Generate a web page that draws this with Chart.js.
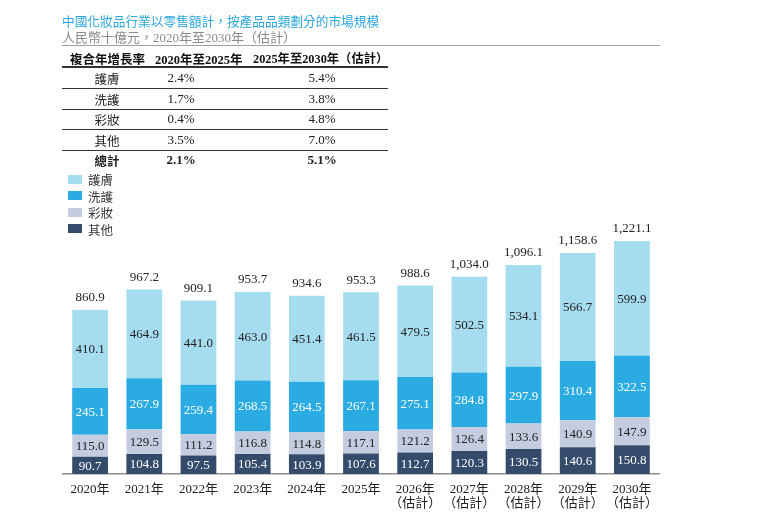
<!DOCTYPE html>
<html>
<head>
<meta charset="utf-8">
<script src="https://cdn.jsdelivr.net/npm/chart.js@4"></script>
<style>
  body { margin: 0; background: #fff; }
  #wrap { position: relative; width: 760px; height: 515px; overflow: hidden; }
  #chart { position: absolute; left: 0; top: 0; }
  .abs { position: absolute; white-space: nowrap; transform: translate(-50%, -50%); }
  .left { transform: translate(0, -50%); }
  .serif { font-family: "Liberation Serif", "Noto Sans CJK TC", serif; }
  .cjk { font-family: "Noto Sans CJK TC", sans-serif; }
  .hline { position: absolute; height: 1px; background: #333; }
  .sw { position: absolute; width: 14px; height: 9px; }
</style>
</head>
<body>
<div id="wrap">
  <canvas id="chart" width="760" height="515"></canvas>
  <div id="overlay"></div>
</div>
<script>
// chart values
const years = ['2020年', '2021年', '2022年', '2023年', '2024年', '2025年',
  ['2026年', '（估計）'], ['2027年', '（估計）'], ['2028年', '（估計）'],
  ['2029年', '（估計）'], ['2030年', '（估計）']];
const skincare = [410.1, 464.9, 441.0, 463.0, 451.4, 461.5, 479.5, 502.5, 534.1, 566.7, 599.9];
const haircare = [245.1, 267.9, 259.4, 268.5, 264.5, 267.1, 275.1, 284.8, 297.9, 310.4, 322.5];
const makeup = [115.0, 129.5, 111.2, 116.8, 114.8, 117.1, 121.2, 126.4, 133.6, 140.9, 147.9];
const others = [90.7, 104.8, 97.5, 105.4, 103.9, 107.6, 112.7, 120.3, 130.5, 140.6, 150.8];
const totals = [860.9, 967.2, 909.1, 953.7, 934.6, 953.3, 988.6, 1034.0, 1096.1, 1158.6, 1221.1];

// CAGR table
const cagrHead = ['複合年增長率', '2020年至2025年', '2025年至2030年（估計）'];
const cagrCats = ['護膚', '洗護', '彩妝', '其他', '總計'];
const cagr2025 = ['2.4%', '1.7%', '0.4%', '3.5%', '2.1%'];
const cagr2030 = ['5.4%', '3.8%', '4.8%', '7.0%', '5.1%'];

const title = '中國化妝品行業以零售額計，按產品品類劃分的市場規模';
const subtitle = '人民幣十億元，2020年至2030年（估計）';

const colors = { skin: '#a6dcf0', hair: '#2aace2', makeup: '#c4cde0', others: '#344b6c' };

function buildOverlay() {
  const ov = document.getElementById('overlay');
  let html = '';
  html += `<div class="abs left cjk" style="left:62px;top:20px;font-size:12.7px;color:#2ba6dc">${title}</div>`;
  html += `<div class="abs left serif" style="left:62px;top:36px;font-size:13px;color:#8a8a8a">${subtitle}</div>`;
  html += `<div class="hline" style="left:62px;top:45px;width:598px;background:#a0a0a0"></div>`;
  // table header, left edges as in the picture
  const headX = [70, 155, 253];
  const headSize = [12.5, 12.5, 12.3];
  cagrHead.forEach((h, i) => {
    html += `<div class="abs left serif" style="left:${headX[i]}px;top:58px;font-size:${headSize[i]}px;font-weight:bold;color:#111">${h}</div>`;
  });
  html += `<div class="hline" style="left:62px;top:66px;width:326px;height:2px;background:#333"></div>`;
  const rowY = [78, 99, 119, 140, 160];
  const lineY = [88, 109, 129, 150];
  cagrCats.forEach((c, i) => {
    const bold = i === cagrCats.length - 1 ? 'font-weight:bold;' : '';
    html += `<div class="abs cjk" style="left:107px;top:${rowY[i]}px;font-size:12.5px;color:#222;${bold}">${c}</div>`;
    html += `<div class="abs serif" style="left:181px;top:${rowY[i]}px;font-size:13px;color:#222;${bold}">${cagr2025[i]}</div>`;
    html += `<div class="abs serif" style="left:322px;top:${rowY[i]}px;font-size:13px;color:#222;${bold}">${cagr2030[i]}</div>`;
  });
  lineY.forEach(y => {
    html += `<div class="hline" style="left:62px;top:${y}px;width:326px"></div>`;
  });
  // legend
  const legend = [['護膚', colors.skin], ['洗護', colors.hair], ['彩妝', colors.makeup], ['其他', colors.others]];
  legend.forEach((l, i) => {
    const y = 179 + i * 16.5;
    html += `<div class="sw" style="left:68px;top:${y - 4.5}px;background:${l[1]}"></div>`;
    html += `<div class="abs left cjk" style="left:88px;top:${y}px;font-size:12.5px;color:#333">${l[0]}</div>`;
  });
  ov.innerHTML = html;
}

const labelsPlugin = {
  id: 'barLabels',
  afterDatasetsDraw(chart) {
    const ctx = chart.ctx;
    ctx.save();
    ctx.font = '13px "Liberation Serif"';
    ctx.textAlign = 'center';
    ctx.textBaseline = 'middle';
    chart.data.datasets.forEach((ds, di) => {
      const meta = chart.getDatasetMeta(di);
      meta.data.forEach((bar, i) => {
        const mid = (bar.y + bar.base) / 2;
        ctx.fillStyle = ds.labelColor;
        ctx.fillText(ds.data[i].toFixed(1), bar.x, mid + 1);
      });
    });
    const y = chart.scales.y;
    const meta0 = chart.getDatasetMeta(0);
    ctx.fillStyle = '#222';
    totals.forEach((t, i) => {
      const txt = t.toLocaleString('en-US', { minimumFractionDigits: 1, maximumFractionDigits: 1 });
      ctx.fillText(txt, meta0.data[i].x, y.getPixelForValue(t) - 12);
    });
    ctx.restore();
  }
};

function drawChart() {
  buildOverlay();
  const ctx = document.getElementById('chart').getContext('2d');
  new Chart(ctx, {
    type: 'bar',
    data: {
      labels: years,
      datasets: [
        { label: '其他', data: others, backgroundColor: colors.others, labelColor: '#fff' },
        { label: '彩妝', data: makeup, backgroundColor: colors.makeup, labelColor: '#222' },
        { label: '洗護', data: haircare, backgroundColor: colors.hair, labelColor: '#fff' },
        { label: '護膚', data: skincare, backgroundColor: colors.skin, labelColor: '#222' }
      ]
    },
    options: {
      responsive: false,
      animation: false,
      devicePixelRatio: 1,
      layout: { padding: { left: 63, right: 101, top: 226, bottom: 0 } },
      datasets: { bar: { categoryPercentage: 1, barPercentage: 0.66 } },
      plugins: { legend: { display: false }, tooltip: { enabled: false } },
      scales: {
        x: {
          stacked: true,
          grid: { display: false },
          border: { color: '#8c8c8c', width: 1.5 },
          ticks: {
            color: '#222', padding: 0, maxRotation: 0, autoSkip: false,
            font: { family: '"Liberation Serif", "Noto Sans CJK TC"', size: 13, lineHeight: 1.1 }
          },
          afterFit(s) { s.height = 41; }
        },
        y: { stacked: true, display: false, min: 0, max: 1300 }
      }
    },
    plugins: [labelsPlugin]
  });
}

document.addEventListener('DOMContentLoaded', drawChart);
</script>
</body>
</html>
